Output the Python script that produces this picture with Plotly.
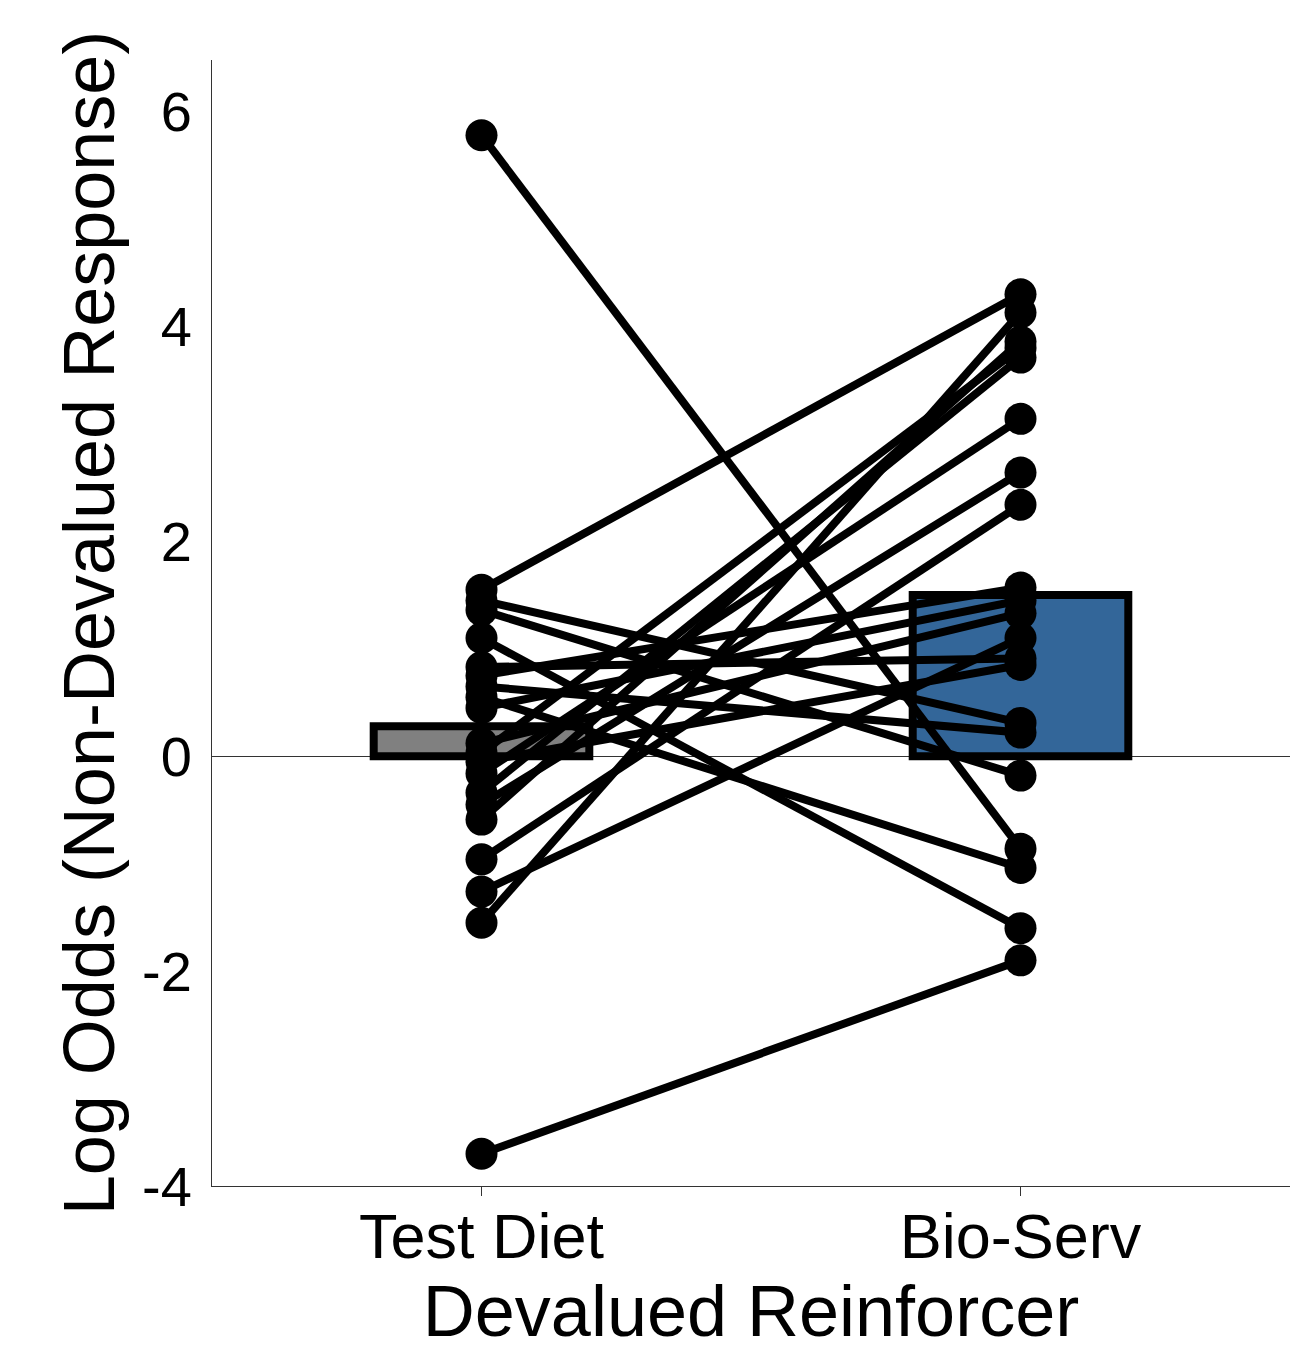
import plotly.graph_objects as go

categories = ["Test Diet", "Bio-Serv"]
bar_means = [0.28, 1.50]
bar_colors = ["#808080", "#336699"]

test_diet = [5.78, -3.70, 1.55, -1.55, 1.10, 0.55, 1.36, 1.45, -1.26, -0.96,
             -0.59, -0.34, -0.45, 0.03, -0.16, 0.83, 0.75, 0.65, 0.45, 0.12, -0.05]
bio_serv = [-0.86, -1.90, 4.30, 4.13, -1.60, -1.04, -0.18, 0.31, 1.10, 2.34,
            3.86, 3.71, 2.64, 3.80, 3.14, 0.91, 1.57, 0.22, 1.45, 1.33, 0.85]

y_ticks = [-4, -2, 0, 2, 4, 6]
y_ticklabels = ["-4", "-2", "0", "2", "4", "6"]

xpos = list(range(len(categories)))

fig = go.Figure()
fig.add_trace(go.Bar(
    x=xpos, y=bar_means, width=0.4,
    marker=dict(color=bar_colors, line=dict(color="black", width=8)),
    showlegend=False,
))

lx, ly = [], []
for a, b in zip(test_diet, bio_serv):
    lx += [xpos[0], xpos[1], None]
    ly += [a, b, None]
fig.add_trace(go.Scatter(
    x=lx, y=ly, mode="lines",
    line=dict(color="black", width=8), showlegend=False,
))
fig.add_trace(go.Scatter(
    x=[xpos[0]] * len(test_diet) + [xpos[1]] * len(bio_serv),
    y=test_diet + bio_serv, mode="markers",
    marker=dict(color="black", size=32, line=dict(width=0)),
    showlegend=False,
))

font_family = "Liberation Sans, Arial, sans-serif"
fig.update_layout(
    width=1302, height=1348,
    margin=dict(l=204, r=20, t=52, b=170),
    plot_bgcolor="white", paper_bgcolor="white",
    font=dict(family=font_family, color="black"),
    xaxis=dict(
        range=[-0.5, 1.5], tickvals=xpos, ticktext=categories,
        tickfont=dict(size=63), showgrid=False, zeroline=False,
        showline=True, linecolor="#333333", linewidth=1,
        ticks="outside", ticklen=9, tickcolor="#333333",
        ticklabelstandoff=-14, automargin=False,
        title=dict(text="Devalued Reinforcer", font=dict(size=72), standoff=0),
    ),
    yaxis=dict(
        range=[-4, 6.48], tickvals=y_ticks, ticktext=y_ticklabels,
        tickfont=dict(size=56), showgrid=False,
        zeroline=True, zerolinecolor="#333333", zerolinewidth=1,
        showline=True, linecolor="#333333", linewidth=1,
        ticks="", ticklabelstandoff=8, automargin=False,
        title=dict(text="Log Odds (Non-Devalued Response)", font=dict(size=72), standoff=3),
    ),
)

fig.write_html("out.html")
